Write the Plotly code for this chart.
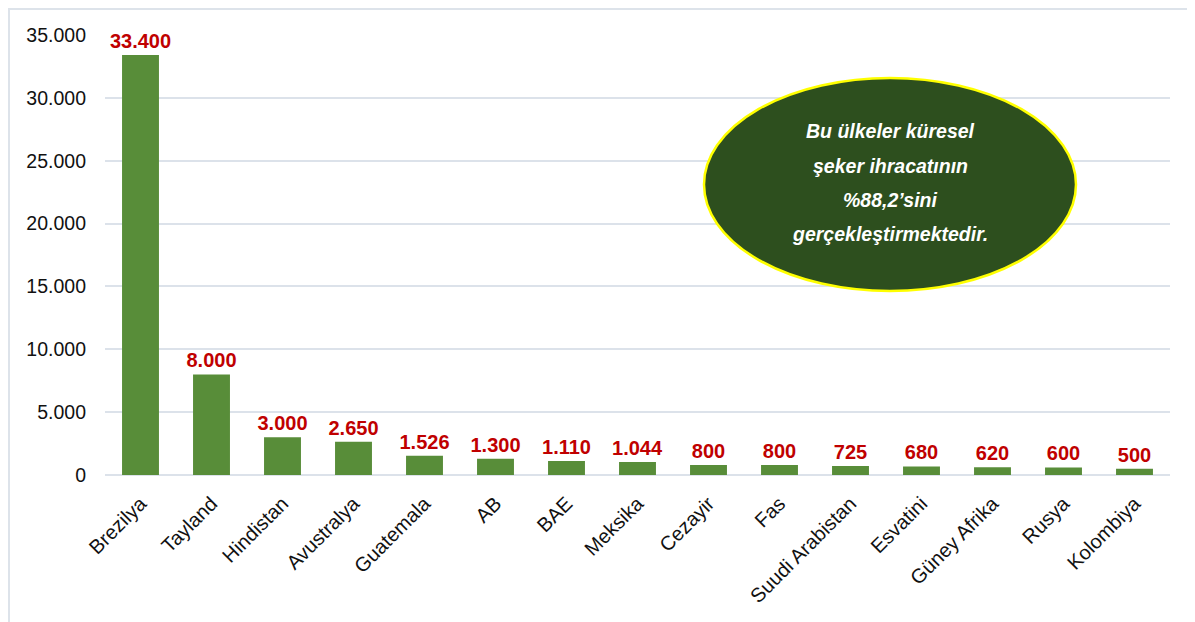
import plotly.graph_objects as go

# export volumes (thousand tonnes) per country
countries = ['Brezilya', 'Tayland', 'Hindistan', 'Avustralya', 'Guatemala', 'AB', 'BAE',
             'Meksika', 'Cezayir', 'Fas', 'Suudi Arabistan', 'Esvatini', 'Güney Afrika',
             'Rusya', 'Kolombiya']
exports = [33400, 8000, 3000, 2650, 1526, 1300, 1110, 1044, 800, 800, 725, 680, 620, 600, 500]
y_ticks = [0, 5000, 10000, 15000, 20000, 25000, 30000, 35000]
note_lines = ['Bu ülkeler küresel', 'şeker ihracatının', '%88,2’sini', 'gerçekleştirmektedir.']

W, H = 1195, 622
OFF = 8  # page body margin
L, R, T, B = 97, 33, 27, 155
pw, ph = W - L - R, H - T - B


def px(x):
    # page pixel -> paper x
    return (x - OFF - L) / pw


def py(y):
    # page pixel -> paper y
    return (H - B - (y - OFF)) / ph


fig = go.Figure()
fig.add_trace(go.Bar(
    x=countries, y=exports,
    marker=dict(color='#588d39', line=dict(width=0)),
    texttemplate='%{y:,}', textposition='outside', cliponaxis=False, constraintext='none',
    textfont=dict(family='Liberation Sans, Arial', size=20, color='#c00000', weight='bold'),
    hoverinfo='x+y',
))

# frame lines (top / left)
fig.add_shape(type='line', xref='paper', yref='paper', x0=px(8), x1=px(1210), y0=py(9), y1=py(9),
              line=dict(color='#dde3ea', width=2))
fig.add_shape(type='line', xref='paper', yref='paper', x0=px(9), x1=px(9), y0=py(8), y1=py(640),
              line=dict(color='#dde3ea', width=2))

# callout ellipse
fig.add_shape(type='circle', xref='paper', yref='paper', x0=px(704), x1=px(1076), y0=py(291), y1=py(78),
              fillcolor='#2d4f1e', line=dict(color='#ffff00', width=2.5), layer='above')
for i, line in enumerate(note_lines):
    fig.add_annotation(xref='paper', yref='paper', x=px(890), y=py(131 + i * 34.5), text=line,
                       showarrow=False, xanchor='center', yanchor='middle',
                       font=dict(family='Liberation Sans, Arial', size=19.5, color='white',
                                 weight='bold', style='italic'))

fig.update_layout(
    width=W, height=H, margin=dict(l=L, r=R, t=T, b=B),
    paper_bgcolor='white', plot_bgcolor='white',
    separators=',.', showlegend=False, bargap=0.48,
    font=dict(family='Liberation Sans, Arial', color='#111111'),
)
fig.update_xaxes(tickangle=-45, tickfont=dict(size=20, color='#111111'), showline=False,
                 ticks='', showgrid=False, ticklabelstandoff=12)
fig.update_yaxes(range=[0, 35000], tickvals=y_ticks, tickformat=',', showgrid=True,
                 gridcolor='#dce2ea', gridwidth=2, zeroline=True, zerolinecolor='#dce2ea',
                 zerolinewidth=2, tickfont=dict(size=19.5, color='#111111'), ticks='',
                 ticklabelstandoff=18)

fig.write_html("out.html")
